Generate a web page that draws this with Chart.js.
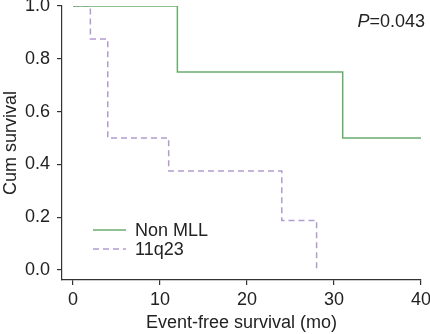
<!DOCTYPE html>
<html>
<head>
<meta charset="utf-8">
<script src="https://cdn.jsdelivr.net/npm/chart.js@4.4.1/dist/chart.umd.min.js"></script>
<style>
  html, body { margin: 0; padding: 0; background: #fff; }
</style>
</head>
<body>
<canvas id="chart" width="430" height="334"></canvas>
<script>
// Kaplan-Meier steps
const seriesNames = ["Non MLL", "11q23"];
const nonMllMonths = [0, 12, 31, 40];
const nonMllSurvival = [1.0, 0.75, 0.5, 0.5];
const q23Months = [0, 2, 4, 11, 24, 28];
const q23Survival = [1.0, 0.875, 0.5, 0.375, 0.1875, 0.0];
const xTicks = [0, 10, 20, 30, 40];
const yTicks = [0.0, 0.2, 0.4, 0.6, 0.8, 1.0];
const pValueText = "0.043";

const FONT = "'Liberation Sans', Arial, Helvetica, sans-serif";
const GREEN = "#6aac6e";
const PURPLE = "#b29ccd";
const AXIS = "#333333";

const toPoints = (xs, ys) => xs.map((x, i) => ({ x, y: ys[i] }));

// legend + p value drawn inside the plot area
const annotations = {
  id: "annotations",
  afterDraw(chart) {
    const ctx = chart.ctx;
    ctx.save();
    ctx.font = "18px " + FONT;
    ctx.textBaseline = "middle";
    ctx.fillStyle = "#222";

    chart.data.datasets.forEach((ds, i) => {
      const y = 230 + i * 19;
      ctx.beginPath();
      ctx.strokeStyle = ds.borderColor;
      ctx.lineWidth = ds.borderWidth;
      ctx.setLineDash(ds.borderDash || []);
      ctx.moveTo(93, y);
      ctx.lineTo(126, y);
      ctx.stroke();
      ctx.setLineDash([]);
      ctx.textAlign = "left";
      ctx.fillText(ds.label, 135, y + 1);
    });

    // P=0.043, with italic P
    ctx.textAlign = "left";
    const rest = "=" + pValueText;
    const restW = ctx.measureText(rest).width;
    ctx.font = "italic 18px " + FONT;
    const pW = ctx.measureText("P").width;
    const x0 = 425 - restW - pW;
    ctx.fillText("P", x0, 22);
    ctx.font = "18px " + FONT;
    ctx.fillText(rest, x0 + pW, 22);
    ctx.restore();
  }
};

new Chart(document.getElementById("chart").getContext("2d"), {
  type: "line",
  data: {
    datasets: [
      {
        label: seriesNames[0],
        data: toPoints(nonMllMonths, nonMllSurvival),
        borderColor: GREEN,
        borderWidth: 1.5,
        stepped: "before",
        pointRadius: 0,
        fill: false
      },
      {
        label: seriesNames[1],
        data: toPoints(q23Months, q23Survival),
        borderColor: PURPLE,
        borderWidth: 1.5,
        borderDash: [6, 4],
        stepped: "before",
        pointRadius: 0,
        fill: false
      }
    ]
  },
  options: {
    responsive: false,
    animation: false,
    layout: { padding: 0 },
    plugins: {
      legend: { display: false },
      tooltip: { enabled: false }
    },
    scales: {
      x: {
        type: "linear",
        min: -1.26,
        max: 40,
        afterBuildTicks: (scale) => { scale.ticks = xTicks.map(v => ({ value: v })); },
        afterFit: (scale) => {
          scale.height = 54;
          scale.paddingLeft = 0;
          scale.paddingRight = 9;
        },
        grid: { drawOnChartArea: false, drawTicks: true, tickLength: 5, color: AXIS, lineWidth: 1.2 },
        border: { display: true, color: AXIS, width: 1.2 },
        ticks: { color: "#222", padding: 4, font: { family: FONT, size: 18 } },
        title: {
          display: true,
          text: "Event-free survival (mo)",
          color: "#222",
          font: { family: FONT, size: 18 },
          padding: { top: 3, bottom: 0 }
        }
      },
      y: {
        type: "linear",
        min: -0.038,
        max: 1.0,
        afterBuildTicks: (scale) => { scale.ticks = yTicks.map(v => ({ value: v })); },
        afterFit: (scale) => {
          scale.width = 62;
          scale.paddingTop = 6;
          scale.paddingBottom = 0;
        },
        grid: { drawOnChartArea: false, drawTicks: true, tickLength: 5, color: AXIS, lineWidth: 1.2 },
        border: { display: true, color: AXIS, width: 1.2 },
        ticks: {
          color: "#222",
          padding: 7,
          font: { family: FONT, size: 18 },
          callback: (v) => v.toFixed(1)
        },
        title: {
          display: true,
          text: "Cum survival",
          color: "#222",
          font: { family: FONT, size: 18 },
          padding: { top: 0, bottom: 0 }
        }
      }
    }
  },
  plugins: [annotations]
});
</script>
</body>
</html>
